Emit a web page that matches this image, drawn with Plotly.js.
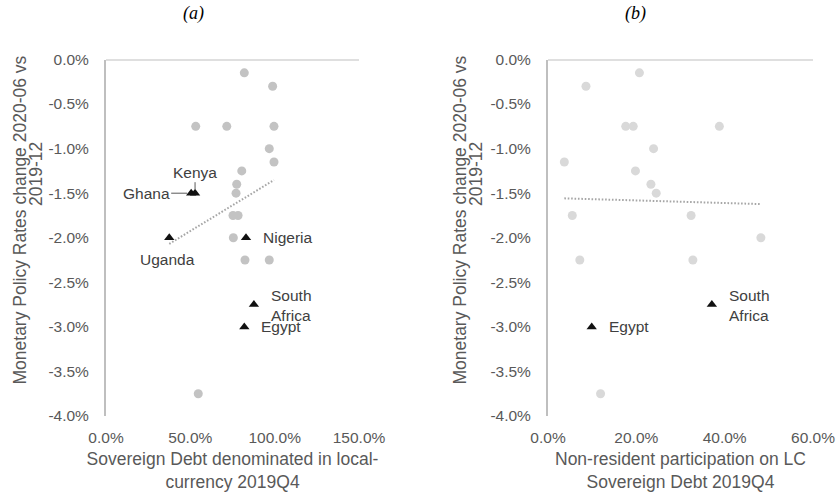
<!DOCTYPE html>
<html>
<head>
<meta charset="utf-8">
<script src="https://cdn.plot.ly/plotly-3.0.1.min.js"></script>
<style>
  html, body { margin: 0; padding: 0; background: #fff; }
  #chart { width: 838px; height: 493px; }
</style>
</head>
<body>
<div id="chart"></div>
<script>
// Panel (a): share of sovereign debt in local currency (%) vs policy-rate change (pp)
const leftOtherShare = [82.0, 98.8, 53.2, 71.6, 99.6, 96.8, 99.6, 80.5, 77.5, 77.1, 75.3, 78.3, 75.5, 82.4, 96.8, 54.7];
const leftOtherRate  = [-0.15, -0.30, -0.75, -0.75, -0.75, -1.00, -1.15, -1.25, -1.40, -1.50, -1.75, -1.75, -2.00, -2.25, -2.25, -3.75];
const leftNamed      = ['Ghana', 'Kenya', 'Uganda', 'Nigeria', 'South Africa', 'Egypt'];
const leftNamedShare = [50.5, 52.8, 37.5, 83.0, 87.7, 82.0];
const leftNamedRate  = [-1.50, -1.50, -2.00, -2.00, -2.75, -3.00];

// Panel (b): non-resident participation in LC sovereign debt (%) vs policy-rate change (pp)
const rightOtherNonRes = [20.7, 8.6, 17.6, 19.3, 38.8, 23.9, 3.7, 19.8, 23.3, 24.5, 5.5, 32.4, 48.2, 7.2, 32.8, 11.9];
const rightOtherRate   = [-0.15, -0.30, -0.75, -0.75, -0.75, -1.00, -1.15, -1.25, -1.40, -1.50, -1.75, -1.75, -2.00, -2.25, -2.25, -3.75];
const rightNamed       = ['South Africa', 'Egypt'];
const rightNamedNonRes = [37.1, 9.9];
const rightNamedRate   = [-2.75, -3.00];

// Tick labels
const yTickVals = [0, -0.5, -1, -1.5, -2, -2.5, -3, -3.5, -4];
const yTickText = ['0.0%', '-0.5%', '-1.0%', '-1.5%', '-2.0%', '-2.5%', '-3.0%', '-3.5%', '-4.0%'];
const leftXTickVals = [0, 50, 100, 150];
const leftXTickText = ['0.0%', '50.0%', '100.0%', '150.0%'];
const rightXTickVals = [0, 20, 40, 60];
const rightXTickText = ['0.0%', '20.0%', '40.0%', '60.0%'];

// Vertical-axis title, one entry per line
const yTitleLines = ['Monetary Policy Rates change 2020-06 vs', '2019-12'];

// Least-squares line over the full x-range of a panel's points
function linearTrend(xs, ys) {
  const n = xs.length;
  const mx = xs.reduce((a, b) => a + b, 0) / n;
  const my = ys.reduce((a, b) => a + b, 0) / n;
  let sxy = 0, sxx = 0;
  for (let i = 0; i < n; i++) {
    sxy += (xs[i] - mx) * (ys[i] - my);
    sxx += (xs[i] - mx) * (xs[i] - mx);
  }
  const slope = sxy / sxx;
  const icpt = my - slope * mx;
  const lo = Math.min(...xs), hi = Math.max(...xs);
  return { x: [lo, hi], y: [icpt + slope * lo, icpt + slope * hi] };
}

const leftTrend = linearTrend(leftOtherShare.concat(leftNamedShare), leftOtherRate.concat(leftNamedRate));
const rightTrend = linearTrend(rightOtherNonRes.concat(rightNamedNonRes), rightOtherRate.concat(rightNamedRate));

const TICK = '#595959';
const LABEL = '#404040';
const AXLINE = '#bfbfbf';
const FONT = '"Liberation Sans", Arial, sans-serif';
const W = 838, H = 493;

const trendStyle = { color: '#a6a6a6', width: 2, dash: '1.6px,1.8px' };

const traces = [
  { type: 'scatter', mode: 'markers', x: leftOtherShare, y: leftOtherRate, xaxis: 'x', yaxis: 'y',
    marker: { symbol: 'circle', size: 9, color: '#c3c3c3' }, hoverinfo: 'skip' },
  { type: 'scatter', mode: 'lines', x: leftTrend.x, y: leftTrend.y, xaxis: 'x', yaxis: 'y',
    line: trendStyle, hoverinfo: 'skip' },
  { type: 'scatter', mode: 'markers', x: leftNamedShare, y: leftNamedRate, text: leftNamed, xaxis: 'x', yaxis: 'y',
    marker: { symbol: 'triangle-up', size: 9, color: '#111111' } },

  { type: 'scatter', mode: 'markers', x: rightOtherNonRes, y: rightOtherRate, xaxis: 'x2', yaxis: 'y2',
    marker: { symbol: 'circle', size: 9, color: '#d9d9d9' }, hoverinfo: 'skip' },
  { type: 'scatter', mode: 'lines', x: rightTrend.x, y: rightTrend.y, xaxis: 'x2', yaxis: 'y2',
    line: trendStyle, hoverinfo: 'skip' },
  { type: 'scatter', mode: 'markers', x: rightNamedNonRes, y: rightNamedRate, text: rightNamed, xaxis: 'x2', yaxis: 'y2',
    marker: { symbol: 'triangle-up', size: 9, color: '#111111' } }
];

// Label placement for the named countries (pixel offsets from each marker)
const leftLabelPlacement = {
  'Ghana':        { arrow: true, ax: -45, ay: 0 },
  'Kenya':        { arrow: true, ax: 0, ay: -21 },
  'Uganda':       { xshift: -2, yshift: -22, xanchor: 'center' },
  'Nigeria':      { xshift: 15, yshift: 0, xanchor: 'left' },
  'South Africa': { xshift: 15, yshift: -1, xanchor: 'left' },
  'Egypt':        { xshift: 15, yshift: 0, xanchor: 'left' }
};
const rightLabelPlacement = {
  'South Africa': { xshift: 15, yshift: -1, xanchor: 'left' },
  'Egypt':        { xshift: 15, yshift: 0, xanchor: 'left' }
};

function labelAnnotations(names, xs, ys, xref, yref, placement) {
  return names.map((name, i) => {
    const p = placement[name];
    const base = {
      x: xs[i], y: ys[i], xref: xref, yref: yref,
      text: name.replace(' ', '<br>'), align: 'left',
      font: { family: FONT, size: 15.5, color: LABEL }
    };
    if (p.arrow) {
      return Object.assign(base, {
        showarrow: true, arrowhead: 0, arrowwidth: 1, arrowcolor: '#595959',
        ax: p.ax, ay: p.ay, standoff: 4
      });
    }
    return Object.assign(base, {
      showarrow: false, xanchor: p.xanchor, yanchor: 'middle',
      xshift: p.xshift, yshift: p.yshift
    });
  });
}

const panelTitleFont = { family: '"Liberation Serif", "Times New Roman", serif', size: 18, color: '#000' };
const titleFont = { family: FONT, size: 17.5, color: TICK };
const tickFont = { family: FONT, size: 15.5, color: TICK };

// Rotated vertical-axis titles, placed in pixel coordinates
function yTitle(lineX) {
  const ys = [220, 174];
  return yTitleLines.map((t, i) => ({
    text: t, textangle: -90, xref: 'paper', yref: 'paper',
    x: lineX[i] / W, y: 1 - ys[i] / H, xanchor: 'center', yanchor: 'middle',
    showarrow: false, font: titleFont
  }));
}

const annotations = [
  { text: '<i>(a)</i>', xref: 'paper', yref: 'paper', x: 193 / W, y: 1 - 13 / H,
    xanchor: 'center', yanchor: 'middle', showarrow: false, font: panelTitleFont },
  { text: '<i>(b)</i>', xref: 'paper', yref: 'paper', x: 635 / W, y: 1 - 13 / H,
    xanchor: 'center', yanchor: 'middle', showarrow: false, font: panelTitleFont }
].concat(
  yTitle([19.5, 36]),
  yTitle([459.5, 476]),
  labelAnnotations(leftNamed, leftNamedShare, leftNamedRate, 'x', 'y', leftLabelPlacement),
  labelAnnotations(rightNamed, rightNamedNonRes, rightNamedRate, 'x2', 'y2', rightLabelPlacement)
);

const yDomain = [1 - 416 / H, 1 - 59.5 / H];

function yAxis(anchor) {
  return {
    domain: yDomain, anchor: anchor, range: [-4, 0],
    tickvals: yTickVals, ticktext: yTickText, tickfont: tickFont,
    ticks: '', ticklabelstandoff: 12,
    showgrid: false, zeroline: false,
    showline: true, linecolor: AXLINE, linewidth: 2
  };
}

function xAxis(anchor, domain, range, vals, text, title) {
  return {
    domain: domain, anchor: anchor, range: range,
    tickvals: vals, ticktext: text, tickfont: tickFont,
    ticks: '', ticklabelstandoff: 10,
    showgrid: false, zeroline: false, showline: false,
    title: { text: title, font: titleFont, standoff: 8 }
  };
}

const layout = {
  width: W, height: H,
  margin: { l: 0, r: 0, t: 0, b: 0 },
  paper_bgcolor: '#ffffff', plot_bgcolor: '#ffffff',
  showlegend: false,
  font: { family: FONT, color: TICK },
  xaxis: xAxis('y', [106 / W, 359 / W], [0, 150], leftXTickVals, leftXTickText,
    'Sovereign Debt denominated in local-<br>currency 2019Q4'),
  yaxis: yAxis('x'),
  xaxis2: xAxis('y2', [548 / W, 813 / W], [0, 60], rightXTickVals, rightXTickText,
    'Non-resident participation on LC<br>Sovereign Debt 2019Q4'),
  yaxis2: yAxis('x2'),
  // horizontal axis lines cross the vertical axes at 0%
  shapes: [
    { type: 'line', xref: 'x domain', yref: 'y', x0: 0, x1: 1, y0: 0, y1: 0,
      line: { color: AXLINE, width: 2 }, layer: 'below' },
    { type: 'line', xref: 'x2 domain', yref: 'y2', x0: 0, x1: 1, y0: 0, y1: 0,
      line: { color: AXLINE, width: 2 }, layer: 'below' }
  ],
  annotations: annotations
};

Plotly.newPlot('chart', traces, layout, { staticPlot: true, displayModeBar: false });
</script>
</body>
</html>
